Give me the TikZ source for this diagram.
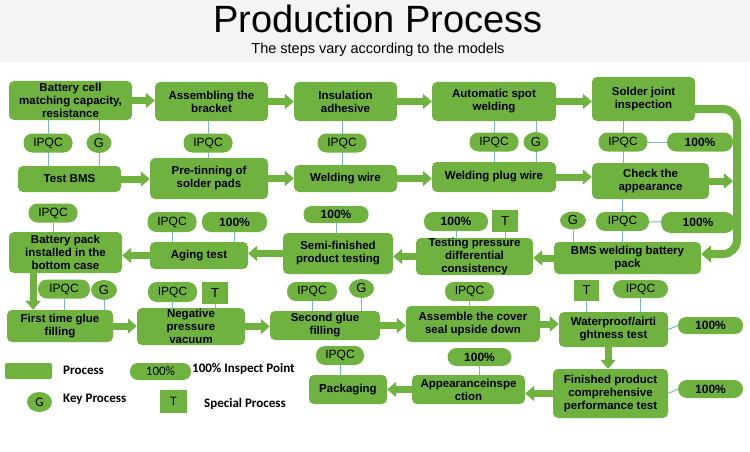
\documentclass[tikz,border=0pt]{standalone}
\usepackage{fontspec}
\setmainfont{Liberation Sans}
\newfontfamily\legfont{Carlito}
\usetikzlibrary{arrows.meta,shapes.geometric,backgrounds}
\definecolor{pgreen}{RGB}{112,178,64}
\definecolor{plink}{RGB}{120,185,205}
\definecolor{hdr}{RGB}{244,244,244}
\begin{document}
\begin{tikzpicture}[x=1pt,y=-1pt,
 proc/.style={rectangle, rounded corners=5pt, fill=pgreen, inner sep=0pt, align=center, font=\bfseries\fontsize{11.5}{13}\selectfont},
 pill/.style={rectangle, rounded corners=9pt, fill=pgreen, inner sep=0pt, minimum height=19pt, font=\fontsize{12}{14}\selectfont},
 pct/.style={pill, font=\bfseries\fontsize{12}{14}\selectfont},
 gkey/.style={ellipse, fill=pgreen, inner sep=0pt, minimum width=25pt, minimum height=20pt, font=\fontsize{13}{14}\selectfont},
 tkey/.style={rectangle, fill=pgreen, inner sep=0pt, minimum width=26pt, minimum height=22pt, font=\fontsize{13}{14}\selectfont},
 flow/.style={draw=pgreen, line width=7pt, -{Triangle[width=15pt,length=9pt]}},
 link/.style={draw=plink, line width=1pt},
 leg/.style={anchor=west, inner sep=0pt, font=\legfont\bfseries\fontsize{13}{15}\selectfont}
]
\useasboundingbox (0,0) rectangle (750,452);
\fill[hdr] (0,0) rectangle (750,62);
\node[anchor=base, inner sep=0pt] (title) at (378,33) {\fontsize{38}{40}\selectfont Production Process};
\node[anchor=base, inner sep=0pt] (subtitle) at (378,54) {\fontsize{14.5}{16}\selectfont The steps vary according to the models};

% Row 1
\node[proc, minimum width=123pt, minimum height=39pt] (b1) at (70.5,100.5) {Battery cell\\matching capacity,\\resistance};
\node[proc, minimum width=113pt, minimum height=39pt] (b2) at (211.5,101.5) {Assembling the\\bracket};
\node[proc, minimum width=103pt, minimum height=39pt] (b3) at (345.5,101.5) {Insulation\\adhesive};
\node[proc, minimum width=124pt, minimum height=39pt] (b4) at (494,101.5) {Automatic spot\\welding};
\node[proc, minimum width=103pt, minimum height=44pt] (b5) at (643.5,99) {Solder joint\\inspection};

% Row 2
\node[proc, minimum width=103pt, minimum height=26pt] (c1) at (69.5,179) {Test BMS};
\node[proc, minimum width=118pt, minimum height=41pt] (c2) at (209,178.5) {Pre-tinning of\\solder pads};
\node[proc, minimum width=103pt, minimum height=27pt] (c3) at (345.5,178.5) {Welding wire};
\node[proc, minimum width=124pt, minimum height=30pt] (c4) at (494,177) {Welding plug wire};
\node[proc, minimum width=117pt, minimum height=36pt] (c5) at (650.5,181) {Check the\\appearance};

\node[pill, minimum width=49pt] (e1) at (48,143) {IPQC};
\node[gkey] (g1) at (99,143) {G};
\node[pill, minimum width=49pt] (e2) at (208,143) {IPQC};
\node[pill, minimum width=49pt] (e3) at (342,143) {IPQC};
\node[pill, minimum width=49pt] (e4) at (494,142) {IPQC};
\node[gkey] (g4) at (536,142) {G};
\node[pill, minimum width=49pt] (e5) at (623,142) {IPQC};
\node[pct, minimum width=66pt] (p5) at (700,142) {100\%};

% Row 3
\node[proc, minimum width=113pt, minimum height=41pt] (d1) at (65.5,252.5) {Battery pack\\installed in the\\bottom case};
\node[proc, minimum width=98pt, minimum height=27pt] (d2) at (199,255.5) {Aging test};
\node[proc, minimum width=110pt, minimum height=41pt] (d3) at (338,253.5) {Semi-finished\\product testing};
\node[proc, minimum width=117pt, minimum height=37pt] (d4) at (474.5,256.5) {Testing pressure\\differential\\consistency};
\node[proc, minimum width=147pt, minimum height=32pt] (d5) at (627.5,258) {BMS welding battery\\pack};

\node[pill, minimum width=49pt] (d1i) at (53,213) {IPQC};
\node[pill, minimum width=49pt, minimum height=20pt] (d2i) at (172,222) {IPQC};
\node[pct, minimum width=65pt, minimum height=20pt] (d2p) at (234.5,222) {100\%};
\node[pct, minimum width=65pt, minimum height=17pt, rounded corners=8pt] (d3p) at (336,214.5) {100\%};
\node[pct, minimum width=64pt] (d4p) at (456,221.5) {100\%};
\node[tkey] (d4t) at (505,221) {T};
\node[gkey, minimum width=26pt, minimum height=18pt] (d5g) at (573,220.5) {G};
\node[pill, minimum width=53pt] (d5i) at (622.5,221.5) {IPQC};
\node[pct, minimum width=74pt, minimum height=21pt, rounded corners=10pt] (d5p) at (698,222.5) {100\%};

% Row 4
\node[proc, minimum width=106pt, minimum height=32pt] (f1) at (60,326) {First time glue\\filling};
\node[proc, minimum width=108pt, minimum height=37pt] (f2) at (191,326.5) {Negative\\pressure\\vacuum};
\node[proc, minimum width=110pt, minimum height=29pt] (f3) at (325,325.5) {Second glue\\filling};
\node[proc, minimum width=134pt, minimum height=36pt] (f4) at (473,324) {Assemble the cover\\seal upside down};
\node[proc, minimum width=109pt, minimum height=35pt] (f5) at (613.5,329.5) {Waterproof/airti\\ghtness test};

\node[pill, minimum width=52pt] (f1i) at (64,289) {IPQC};
\node[gkey, minimum width=26pt] (f1g) at (104,290) {G};
\node[pill, minimum width=49pt, minimum height=20pt] (f2i) at (172.5,292) {IPQC};
\node[tkey] (f2t) at (215,293) {T};
\node[pill, minimum width=50pt] (f3i) at (312,291.5) {IPQC};
\node[gkey, minimum height=19pt] (f3g) at (361.5,288.5) {G};
\node[pill, minimum width=49pt] (f4i) at (469.5,291.5) {IPQC};
\node[tkey, minimum width=25pt, minimum height=21pt] (f5t) at (586.5,290.5) {T};
\node[pill, minimum width=55pt, minimum height=18pt] (f5i) at (640.5,289) {IPQC};
\node[pct, minimum width=65pt, minimum height=17pt, rounded corners=8pt] (f5p) at (710.5,325.5) {100\%};

% Row 5
\node[proc, minimum width=115pt, minimum height=49pt] (h3) at (610.5,393.5) {Finished product\\comprehensive\\performance test};
\node[proc, minimum width=113pt, minimum height=29pt] (h2) at (468.5,389.5) {Appearanceinspe\\ction};
\node[proc, minimum width=78pt, minimum height=29pt] (h1) at (348,389.5) {Packaging};
\node[pct, minimum width=65pt, minimum height=18pt] (h3p) at (710.5,389) {100\%};
\node[pct, minimum width=64pt, minimum height=18pt] (h2p) at (479.5,357) {100\%};
\node[pill, minimum width=48pt] (h1i) at (340,355.5) {IPQC};

% Legend
\node[rectangle, rounded corners=2pt, fill=pgreen, minimum width=47pt, minimum height=16pt, inner sep=0pt] (lproc) at (28.5,371) {};
\node[leg] (lproct) at (63,370) {Process};
\node[pill, minimum width=61pt, minimum height=17pt, rounded corners=8pt, font=\legfont\fontsize{13}{15}\selectfont] (lpct) at (160.5,371.5) {100\%};
\node[leg] (lpctt) at (192,369) {100\% Inspect Point};
\node[gkey, font=\legfont\fontsize{13}{15}\selectfont] (lg) at (39.5,402) {G};
\node[leg] (lgt) at (63,399) {Key Process};
\node[tkey, minimum width=27pt, minimum height=23pt, font=\legfont\fontsize{13}{15}\selectfont] (lt) at (173.5,401.5) {T};
\node[leg] (ltt) at (204,404) {Special Process};

% thin connectors
\begin{pgfonlayer}{background}
\draw[link] (b1.south -| e1) -- (c1.north -| e1);
\draw[link] (b1.south -| g1) -- (c1.north -| g1);
\draw[link] (b2.south -| e2) -- (c2.north -| e2);
\draw[link] (b3.south -| e3) -- (c3.north -| e3);
\draw[link] (b4.south -| e4) -- (c4.north -| e4);
\draw[link] (b4.south -| g4) -- (c4.north -| g4);
\draw[link] (b5.south -| e5) -- (c5.north -| e5);
\draw[link] (e5) -- (p5);
\draw[link] (c5.south -| d5i) -- (d5.north -| d5i);
\draw[link] (d5i) -- (d5p);
\draw[link] (d5g) -- (d5.north -| d5g);
\draw[link] (d4p) -- (d4.north -| d4p);
\draw[link] (d4t) -- (d4.north -| d4t);
\draw[link] (d3p) -- (d3.north -| d3p);
\draw[link] (d2i) -- (d2.north -| d2i);
\draw[link] (d2p) -- (d2.north -| d2p);
\draw[link] (d1i) -- (d1.north -| d1i);
\draw[link] (f1i) -- (f1.north -| f1i);
\draw[link] (f1g) -- (f1.north -| f1g);
\draw[link] (f2i) -- (f2.north -| f2i);
\draw[link] (f2t) -- (f2.north -| f2t);
\draw[link] (f3i) -- (f3.north -| f3i);
\draw[link] (f3g) -- (f3.north -| f3g);
\draw[link] (f4i) -- (f4.north -| f4i);
\draw[link] (f5t) -- (f5.north -| f5t);
\draw[link] (f5i) -- (f5.north -| f5i);
\draw[link] (f5.east) -- (f5p.west);
\draw[link] (h3.east) -- (h3p.west);
\draw[link] (h2p) -- (h2.north -| h2p);
\draw[link] (h1i) -- (h1.north -| h1i);
\end{pgfonlayer}

% flow arrows
\draw[flow] (b1.east) -- (b1.east -| b2.west);
\draw[flow] (b2.east) -- (b2.east -| b3.west);
\draw[flow] (b3.east) -- (b3.east -| b4.west);
\draw[flow] (b4.east) -- (b4.east -| b5.west);
\draw[flow] (c1.east) -- (c1.east -| c2.west);
\draw[flow] (c2.east) -- (c2.east -| c3.west);
\draw[flow] (c3.east) -- (c3.east -| c4.west);
\draw[flow] (c4.east) -- (c4.east -| c5.west);
\coordinate (bar) at (737,109);
\coordinate (barin) at (733,181);
\draw[flow] (c5.east) -- (barin);
\draw[draw=pgreen, line width=8pt, rounded corners=14pt, -{Triangle[width=17pt,length=10pt]}] (b5.east |- bar) -- (bar) |- ([yshift=4pt]d5.east);
\draw[flow] (d5.west) -- (d5.west -| d4.east);
\draw[flow] (d4.west) -- (d4.west -| d3.east);
\draw[flow] (d3.west) -- (d3.west -| d2.east);
\draw[flow] (d2.west) -- (d2.west -| d1.east);
\coordinate (dn1) at (33,0);
\draw[flow] (d1.south -| dn1) -- (f1.north -| dn1);
\draw[flow] (f1.east) -- (f1.east -| f2.west);
\draw[flow] (f2.east) -- (f2.east -| f3.west);
\draw[flow] (f3.east) -- (f3.east -| f4.west);
\draw[flow] (f4.east) -- (f4.east -| f5.west);
\coordinate (dn2) at (608,0);
\draw[flow] (f5.south -| dn2) -- (h3.north -| dn2);
\draw[flow] (h3.west) -- (h3.west -| h2.east);
\draw[flow] (h2.west) -- (h2.west -| h1.east);
\end{tikzpicture}
\end{document}
